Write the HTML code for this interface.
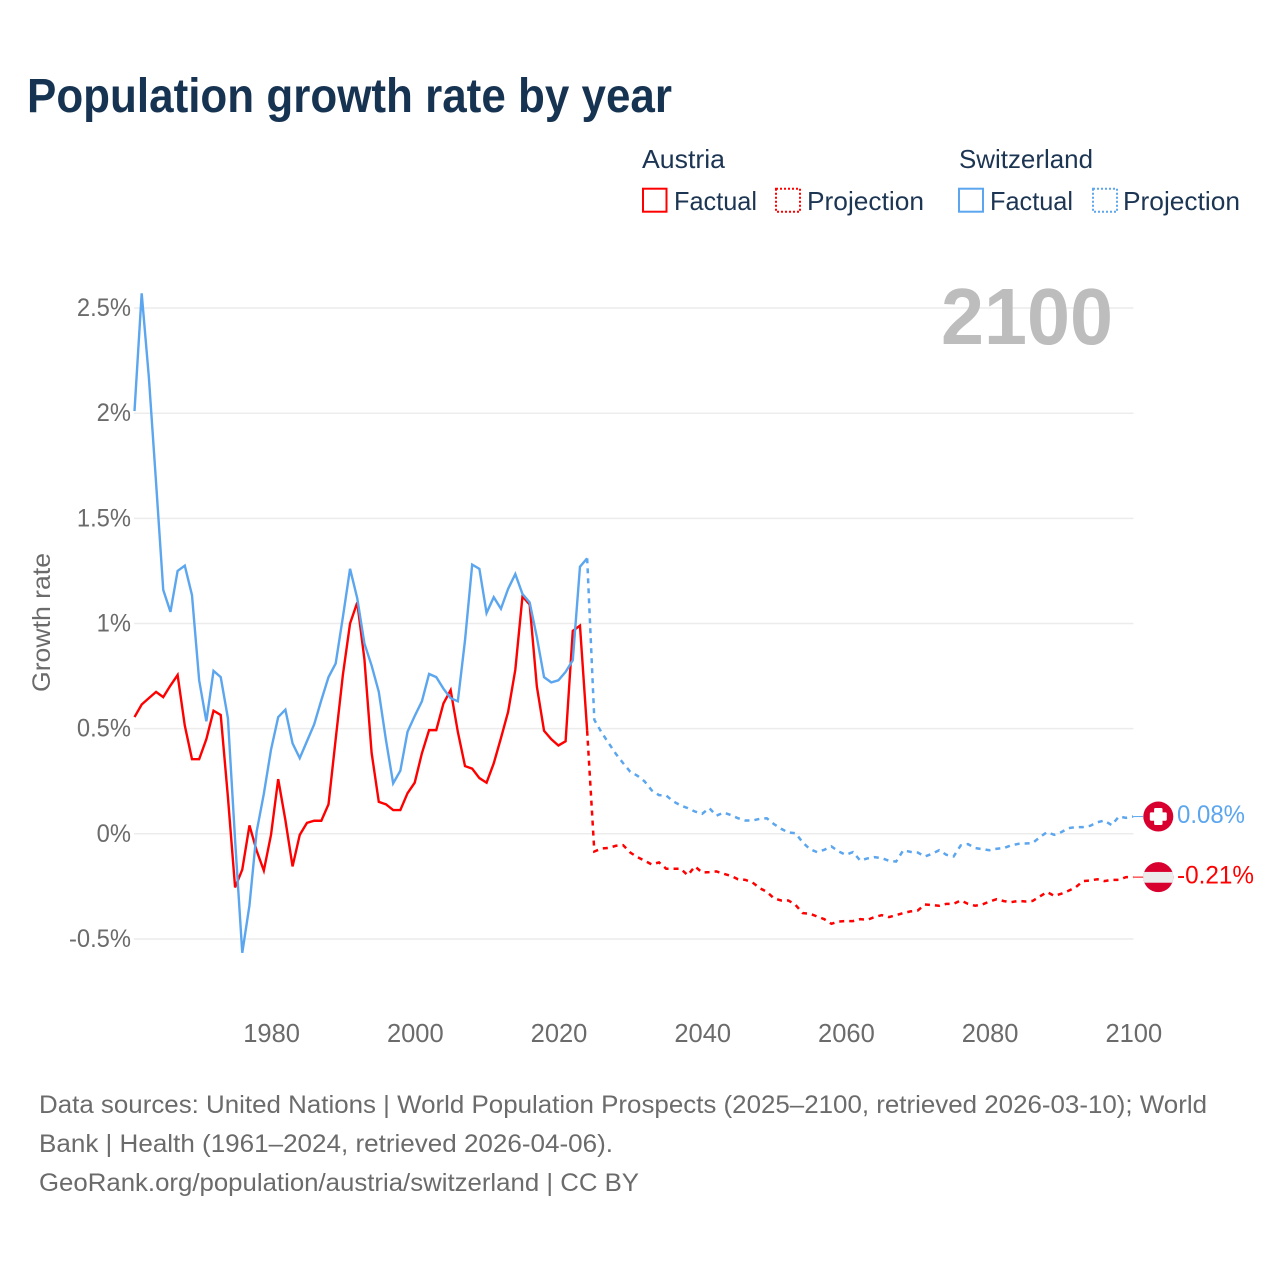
<!DOCTYPE html>
<html lang="en">
<head>
<meta charset="utf-8">
<title>Population growth rate by year</title>
<style>
html,body{margin:0;padding:0;background:#fff;}
svg{display:block;}
text{font-family:"Liberation Sans",sans-serif;}
</style>
</head>
<body>
<svg id="chart" xmlns="http://www.w3.org/2000/svg" width="1280" height="1280" viewBox="0 0 1280 1280">
  <defs>
    <clipPath id="flag-clip"><circle cx="0" cy="0" r="15"/></clipPath>
  </defs>
  <rect x="0" y="0" width="1280" height="1280" fill="#ffffff"/>
  <text x="27" y="112" font-size="48" font-weight="700" fill="#173352" textLength="645" lengthAdjust="spacingAndGlyphs">Population growth rate by year</text>

  <g font-size="26" fill="#1c3553">
    <text x="642" y="168" textLength="83" lengthAdjust="spacingAndGlyphs">Austria</text>
    <rect x="643" y="188.7" width="23.5" height="23" fill="none" stroke="#ff0000" stroke-width="2"/>
    <text x="674" y="210" textLength="83" lengthAdjust="spacingAndGlyphs">Factual</text>
    <rect x="776" y="188.7" width="24" height="23" fill="none" stroke="#ff0000" stroke-width="2" stroke-dasharray="2 2"/>
    <text x="807" y="210" textLength="117" lengthAdjust="spacingAndGlyphs">Projection</text>
    <text x="959" y="168" textLength="134" lengthAdjust="spacingAndGlyphs">Switzerland</text>
    <rect x="959" y="188.7" width="24" height="23" fill="none" stroke="#5ba6ee" stroke-width="2"/>
    <text x="990" y="210" textLength="83" lengthAdjust="spacingAndGlyphs">Factual</text>
    <rect x="1093" y="188.7" width="24" height="23" fill="none" stroke="#5ba6ee" stroke-width="2" stroke-dasharray="2 2"/>
    <text x="1123" y="210" textLength="117" lengthAdjust="spacingAndGlyphs">Projection</text>
  </g>

  <g id="grid"></g>
  <g id="yticks"></g>
  <g id="xticks"></g>

  <text x="1113" y="344" font-size="80" font-weight="700" fill="#bdbdbd" text-anchor="end" textLength="172" lengthAdjust="spacingAndGlyphs">2100</text>
  <text transform="translate(50,692) rotate(-90)" x="0" y="0" font-size="25" fill="#6b6b6b" textLength="139" lengthAdjust="spacingAndGlyphs">Growth rate</text>

  <g id="series"></g>
  <g id="endmarks"></g>

  <g font-size="25" fill="#6b6b6b">
    <text x="39" y="1113" textLength="1168" lengthAdjust="spacingAndGlyphs">Data sources: United Nations | World Population Prospects (2025–2100, retrieved 2026-03-10); World</text>
    <text x="39" y="1152" textLength="574" lengthAdjust="spacingAndGlyphs">Bank | Health (1961–2024, retrieved 2026-04-06).</text>
    <text x="39" y="1191" textLength="600" lengthAdjust="spacingAndGlyphs">GeoRank.org/population/austria/switzerland | CC BY</text>
  </g>
</svg>

<script>
const yTickValues = [2.5, 2, 1.5, 1, 0.5, 0, -0.5];
const yTickLabels = ["2.5%", "2%", "1.5%", "1%", "0.5%", "0%", "-0.5%"];
const xTickYears = [1980, 2000, 2020, 2040, 2060, 2080, 2100];
const factualStartYear = 1961;

const austriaFactual = [
  0.555, 0.615, 0.645, 0.675, 0.65, 0.705, 0.755, 0.515, 0.355, 0.355,
  0.45, 0.585, 0.565, 0.175, -0.255, -0.17, 0.04, -0.08, -0.175, -0.005,
  0.26, 0.065, -0.155, -0.005, 0.052, 0.062, 0.062, 0.14, 0.45, 0.755,
  1.0, 1.1, 0.83, 0.385, 0.152, 0.14, 0.113, 0.113, 0.193, 0.243,
  0.383, 0.493, 0.493, 0.62, 0.683, 0.485, 0.322, 0.31, 0.265, 0.243,
  0.335, 0.455, 0.58, 0.78, 1.13, 1.09, 0.7, 0.49, 0.45, 0.42,
  0.44, 0.965, 0.99, 0.49
];
const switzerlandFactual = [
  2.01, 2.57, 2.17, 1.67, 1.16, 1.055, 1.25, 1.275, 1.135, 0.73,
  0.535, 0.775, 0.745, 0.55, -0.03, -0.566, -0.34, 0.01, 0.19, 0.4,
  0.555, 0.59, 0.43, 0.36, 0.44, 0.52, 0.635, 0.745, 0.81, 1.03,
  1.26, 1.12, 0.905, 0.8, 0.675, 0.445, 0.24, 0.3, 0.485, 0.56,
  0.63, 0.76, 0.745, 0.69, 0.645, 0.63, 0.92, 1.28, 1.26, 1.05,
  1.125, 1.07, 1.165, 1.235, 1.14, 1.1, 0.935, 0.745, 0.72, 0.73,
  0.77, 0.825, 1.27, 1.31
];
const austriaProjection = [
  -0.084, -0.07, -0.067, -0.057, -0.054, -0.089, -0.111, -0.128, -0.146, -0.136,
  -0.166, -0.166, -0.166, -0.197, -0.155, -0.184, -0.182, -0.179, -0.19, -0.2,
  -0.216, -0.219, -0.231, -0.258, -0.276, -0.307, -0.317, -0.317, -0.338, -0.377,
  -0.38, -0.393, -0.406, -0.428, -0.417, -0.415, -0.415, -0.406, -0.409, -0.396,
  -0.387, -0.396, -0.387, -0.377, -0.369, -0.365, -0.336, -0.339, -0.342, -0.333,
  -0.333, -0.317, -0.333, -0.342, -0.336, -0.322, -0.311, -0.32, -0.325, -0.319,
  -0.322, -0.319, -0.298, -0.277, -0.295, -0.285, -0.271, -0.254, -0.225, -0.222,
  -0.216, -0.225, -0.219, -0.219, -0.206, -0.206
];
const switzerlandProjection = [
  0.542, 0.482, 0.431, 0.38, 0.336, 0.295, 0.276, 0.249, 0.206, 0.184,
  0.182, 0.154, 0.135, 0.122, 0.106, 0.095, 0.122, 0.086, 0.101, 0.089,
  0.074, 0.063, 0.063, 0.071, 0.074, 0.046, 0.024, 0.006, 0.003, -0.041,
  -0.073, -0.087, -0.076, -0.06, -0.084, -0.1, -0.087, -0.127, -0.117, -0.111,
  -0.116, -0.128, -0.132, -0.078, -0.086, -0.089, -0.108, -0.095, -0.078, -0.1,
  -0.108, -0.055, -0.049, -0.068, -0.073, -0.078, -0.071, -0.068, -0.055, -0.048,
  -0.046, -0.044, -0.016, 0.008, -0.005, 0.008, 0.027, 0.032, 0.032, 0.038,
  0.055, 0.063, 0.041, 0.082, 0.076, 0.082
];

const SVGNS = "http://www.w3.org/2000/svg";
const RED = "#ff0000";
const BLUE = "#5ba6ee";
const xScale = function (year) { return 134.5 + (year - 1961) * 7.185; };
const yScale = function (value) { return 833.8 - 210.3 * value; };

function make(tag, attrs, parent) {
  const el = document.createElementNS(SVGNS, tag);
  Object.keys(attrs).forEach(function (k) { el.setAttribute(k, attrs[k]); });
  parent.appendChild(el);
  return el;
}

const gridGroup = document.getElementById("grid");
const yTickGroup = document.getElementById("yticks");
const xTickGroup = document.getElementById("xticks");
const seriesGroup = document.getElementById("series");
const endGroup = document.getElementById("endmarks");

yTickValues.forEach(function (v, i) {
  const line = make("line", { x1: 134, x2: 1133.5, y1: yScale(v), y2: yScale(v), stroke: "#ececec", "stroke-width": 1.5 }, gridGroup);
  
  
  const label = make("text", { x: 131, y: yScale(v) + 8, "text-anchor": "end", "font-size": 25, fill: "#6b6b6b" }, yTickGroup);
  
  
  label.textContent = yTickLabels[i];
  const narrowed = label.getComputedTextLength() * 0.95;
  label.setAttribute('textLength', narrowed);
  label.setAttribute('lengthAdjust', 'spacingAndGlyphs');
});

xTickYears.forEach(function (yr) {
  const label = make("text", { x: xScale(yr) + 0.6, y: 1042, "text-anchor": "middle", "font-size": 25.5, fill: "#6b6b6b" }, xTickGroup);
  
  
  label.textContent = String(yr);
});

function pathFrom(values, startYear) {
  return values.map(function (v, i) {
    return (i ? "L" : "M") + xScale(startYear + i).toFixed(2) + " " + yScale(v).toFixed(2);
  }).join(" ");
}

function drawSeries(factual, projection, color, key) {
  const lastYear = factualStartYear + factual.length - 1;
  const proj = make("path", {
    d: pathFrom([factual[factual.length - 1]].concat(projection), lastYear),
    fill: "none", stroke: color, "stroke-width": 2.5, "stroke-dasharray": "5 5"
  }, seriesGroup);
  
  
  const fact = make("path", {
    d: pathFrom(factual, factualStartYear),
    fill: "none", stroke: color, "stroke-width": 2.4, "stroke-linejoin": "miter"
  }, seriesGroup);
  
  
}

drawSeries(austriaFactual, austriaProjection, RED, "austria");
drawSeries(switzerlandFactual, switzerlandProjection, BLUE, "switzerland");

function drawEnd(value, color, key, labelWidth, flagDraw) {
  const cy = yScale(value);
  const leader = make("line", { x1: xScale(2100), x2: 1143, y1: cy, y2: cy, stroke: color, "stroke-width": 1 }, endGroup);
  
  
  const flag = make("g", { transform: "translate(1158.3," + cy + ")" }, endGroup);
  
  
  flagDraw(flag);
  const txt = make("text", { x: 1177, y: cy + 6.5, "font-size": 25, fill: color, textLength: labelWidth, lengthAdjust: "spacingAndGlyphs" }, endGroup);
  
  
  txt.textContent = value.toFixed(2) + "%";
}

drawEnd(switzerlandProjection[switzerlandProjection.length - 1], BLUE, "switzerland", 68, function (g) {
  make("circle", { cx: 0, cy: 0, r: 15, fill: "#d8002e" }, g);
  make("rect", { x: -8.5, y: -4.2, width: 17, height: 8.4, rx: 1.2, fill: "#ffffff" }, g);
  make("rect", { x: -4.2, y: -8.5, width: 8.4, height: 17, rx: 1.2, fill: "#ffffff" }, g);
});

drawEnd(austriaProjection[austriaProjection.length - 1], RED, "austria", 77, function (g) {
  make("circle", { cx: 0, cy: 0, r: 15, fill: "#d8002e" }, g);
  make("rect", { x: -15, y: -5.2, width: 30, height: 10.8, fill: "#ececec", "clip-path": "url(#flag-clip)" }, g);
});
</script>
</body>
</html>
